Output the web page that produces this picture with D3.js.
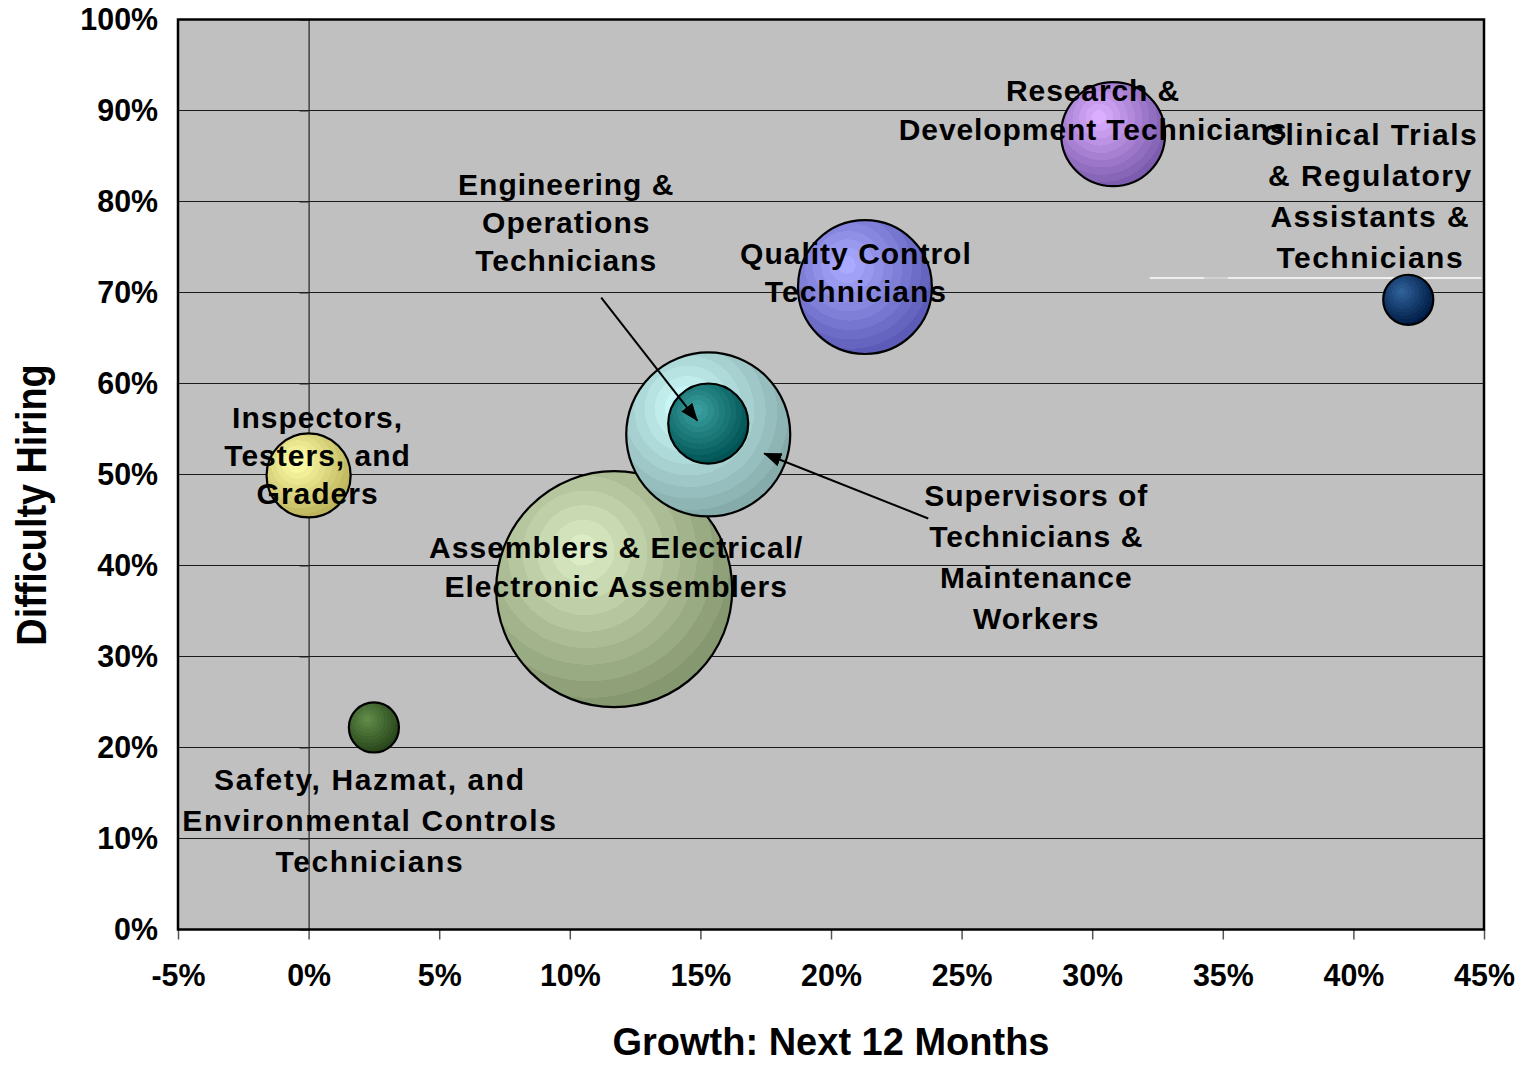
<!DOCTYPE html>
<html>
<head>
<meta charset="utf-8">
<title>Difficulty Hiring vs Growth</title>
<script src="https://cdn.jsdelivr.net/npm/d3@7"></script>
<style>
body { margin: 0; background: #fff; }
text { font-family: "Liberation Sans", Arial, sans-serif; font-weight: bold; fill: #000; }
</style>
</head>
<body>
<svg id="chart" width="1521" height="1065"></svg>
<script>

// data
var jobs = ["Inspectors, Testers, and Graders",
            "Safety, Hazmat, and Environmental Controls Technicians",
            "Assemblers & Electrical/Electronic Assemblers",
            "Supervisors of Technicians & Maintenance Workers",
            "Engineering & Operations Technicians",
            "Quality Control Technicians",
            "Research & Development Technicians",
            "Clinical Trials & Regulatory Assistants & Technicians"];
var growth     = [0, 2.5, 11.7, 15.3, 15.3, 21.3, 30.8, 42.1];
var difficulty = [49.9, 22.2, 37.4, 54.4, 55.6, 70.6, 87.4, 69.2];
var bubbleSize = [127, 45, 1000, 483, 115, 322, 194, 45];

var xTicks = [-5, 0, 5, 10, 15, 20, 25, 30, 35, 40, 45];
var yTicks = [0, 10, 20, 30, 40, 50, 60, 70, 80, 90, 100];

var labelLines = [["Inspectors,", "Testers, and", "Graders"],
                  ["Safety, Hazmat, and", "Environmental Controls", "Technicians"],
                  ["Assemblers & Electrical/", "Electronic Assemblers"],
                  ["Supervisors of", "Technicians &", "Maintenance", "Workers"],
                  ["Engineering &", "Operations", "Technicians"],
                  ["Quality Control", "Technicians"],
                  ["Research &", "Development Technicians"],
                  ["Clinical Trials", "& Regulatory", "Assistants &", "Technicians"]];

// styling / layout
var innerColor = ["#ffffa8", "#5f8a48", "#dcecc4", "#d0ffff", "#3a9e9e", "#aaaaff", "#dcaeff", "#2e6098"];
var outerColor = ["#bdb45c", "#28461a", "#869870", "#86abab", "#005454", "#5c5cb8", "#7c5cae", "#001c46"];
// label offset from bubble centre (px): dx, dy of first baseline, line height, letter spacing
var labelPos = [[9, -47, 38, 1], [-4, 63, 41, 1.6], [2, -31, 39, 1], [328, 72, 41, 1],
                [-142, -229, 38, 1], [-9, -23, 38, 1], [-20, -33, 39, 0.9], [-38, -155, 41, 1.5]];
// arrows: [bubble index, start dx, start dy, tip dx, tip dy]
var arrows = [[4, -107, -126, -11, -3], [3, 220, 84, 56, 19]];

var svg = d3.select("#chart");

var x = d3.scaleLinear().domain([-5, 45]).range([178, 1484]);
var y = d3.scaleLinear().domain([0, 100]).range([929.5, 19.5]);
var r = d3.scaleSqrt().domain([0, 1000]).range([0, 118]);

// plot background
svg.append("rect")
   .attr("x", x(-5)).attr("y", y(100))
   .attr("width", x(45) - x(-5)).attr("height", y(0) - y(100))
   .attr("fill", "#c0c0c0");

// horizontal gridlines
svg.append("g").selectAll("line")
   .data(yTicks.slice(1, -1))
   .enter().append("line")
      .attr("x1", x(-5)).attr("x2", x(45))
      .attr("y1", function(d) { return y(d); })
      .attr("y2", function(d) { return y(d); })
      .attr("stroke", "#1a1a1a")
      .attr("stroke-width", 1.2);

// value axis line crossing at 0%
var zeroAxis = svg.append("g")
   .attr("transform", "translate(" + x(0) + ",0)")
   .call(d3.axisLeft(y).tickValues(yTicks).tickSize(9).tickSizeOuter(0).tickFormat(""));
zeroAxis.select(".domain").attr("stroke", "#222").attr("stroke-width", 1.2);
zeroAxis.selectAll(".tick line").attr("stroke", "#222");

// y labels at the left edge
var yAxis = svg.append("g")
   .attr("transform", "translate(" + x(-5) + ",0)")
   .call(d3.axisLeft(y).tickValues(yTicks).tickSize(0).tickPadding(21)
         .tickFormat(function(d) { return d + "%"; }));
yAxis.select(".domain").remove();
yAxis.selectAll("text")
   .style("font-size", "32px")
   .attr("transform", "scale(0.95,1)");

// x axis
var xAxis = svg.append("g")
   .attr("transform", "translate(0," + y(0) + ")")
   .call(d3.axisBottom(x).tickValues(xTicks).tickSize(10).tickSizeOuter(0).tickPadding(24)
         .tickFormat(function(d) { return d + "%"; }));
xAxis.select(".domain").remove();
xAxis.selectAll(".tick line").attr("stroke", "#555").attr("stroke-width", 1.5);
xAxis.selectAll("text")
   .style("font-size", "32px")
   .attr("transform", "scale(0.95,1)");

// plot border
svg.append("rect")
   .attr("x", x(-5)).attr("y", y(100))
   .attr("width", x(45) - x(-5)).attr("height", y(0) - y(100))
   .attr("fill", "none")
   .attr("stroke", "#000")
   .attr("stroke-width", 2.5);

// white line left by a text box
svg.append("line")
   .attr("x1", x(32.2)).attr("x2", x(34.3))
   .attr("y1", y(71.6)).attr("y2", y(71.6))
   .attr("stroke", "#fff").attr("stroke-width", 1.5);
svg.append("line")
   .attr("x1", x(34.3)).attr("x2", x(35.2))
   .attr("y1", y(71.6)).attr("y2", y(71.6))
   .attr("stroke", "#d8d8d8").attr("stroke-width", 1.5);
svg.append("line")
   .attr("x1", x(35.2)).attr("x2", x(44.9))
   .attr("y1", y(71.6)).attr("y2", y(71.6))
   .attr("stroke", "#fff").attr("stroke-width", 1.5);

// banded radial gradients
var defs = svg.append("defs");
var bands = 10;
jobs.forEach(function(j, i) {
  var g = defs.append("radialGradient")
     .attr("id", "grad" + i)
     .attr("cx", "40%").attr("cy", "37%")
     .attr("fx", "36%").attr("fy", "33%")
     .attr("r", "66%");
  var interp = d3.interpolateRgb(innerColor[i], outerColor[i]);
  for (var k = 0; k < bands; k++) {
    var c = interp(k / (bands - 1));
    g.append("stop").attr("offset", (k / bands * 100) + "%").attr("stop-color", c);
    g.append("stop").attr("offset", ((k + 1) / bands * 100) + "%").attr("stop-color", c);
  }
});

var marker = defs.append("marker")
   .attr("id", "arrow")
   .attr("markerUnits", "userSpaceOnUse")
   .attr("markerWidth", 20).attr("markerHeight", 16)
   .attr("refX", 17).attr("refY", 7)
   .attr("orient", "auto");
marker.append("path").attr("d", "M0,0 L18,7 L0,14 Z").attr("fill", "#000");

// bubbles, largest first
var order = d3.range(jobs.length).sort(function(a, b) { return bubbleSize[b] - bubbleSize[a]; });

svg.append("g").selectAll("circle")
   .data(order)
   .enter().append("circle")
      .attr("cx", function(i) { return x(growth[i]); })
      .attr("cy", function(i) { return y(difficulty[i]); })
      .attr("r", function(i) { return r(bubbleSize[i]); })
      .attr("fill", function(i) { return "url(#grad" + i + ")"; })
      .attr("stroke", "#000")
      .attr("stroke-width", 2.2);

// labels
var labels = svg.append("g").selectAll("text")
   .data(d3.range(jobs.length))
   .enter().append("text")
      .attr("text-anchor", "middle")
      .style("font-size", "30px")
      .style("letter-spacing", function(i) { return labelPos[i][3] + "px"; });

labels.each(function(i) {
  var t = d3.select(this);
  var cx = x(growth[i]) + labelPos[i][0];
  var cy = y(difficulty[i]) + labelPos[i][1];
  labelLines[i].forEach(function(line, k) {
    t.append("tspan")
     .attr("x", cx)
     .attr("y", cy + k * labelPos[i][2])
     .text(line);
  });
});

// arrows from labels to bubbles
svg.append("g").selectAll("line")
   .data(arrows)
   .enter().append("line")
      .attr("x1", function(a) { return x(growth[a[0]]) + a[1]; })
      .attr("y1", function(a) { return y(difficulty[a[0]]) + a[2]; })
      .attr("x2", function(a) { return x(growth[a[0]]) + a[3]; })
      .attr("y2", function(a) { return y(difficulty[a[0]]) + a[4]; })
      .attr("stroke", "#000")
      .attr("stroke-width", 2)
      .attr("marker-end", "url(#arrow)");

// axis titles
svg.append("text")
   .attr("x", (x(-5) + x(45)) / 2)
   .attr("y", 1055)
   .attr("text-anchor", "middle")
   .style("font-size", "38px")
   .text("Growth: Next 12 Months");

svg.append("text")
   .attr("transform", "translate(46,505) rotate(-90) scale(0.9,1)")
   .attr("text-anchor", "middle")
   .style("font-size", "42px")
   .text("Difficulty Hiring");

</script>
</body>
</html>
